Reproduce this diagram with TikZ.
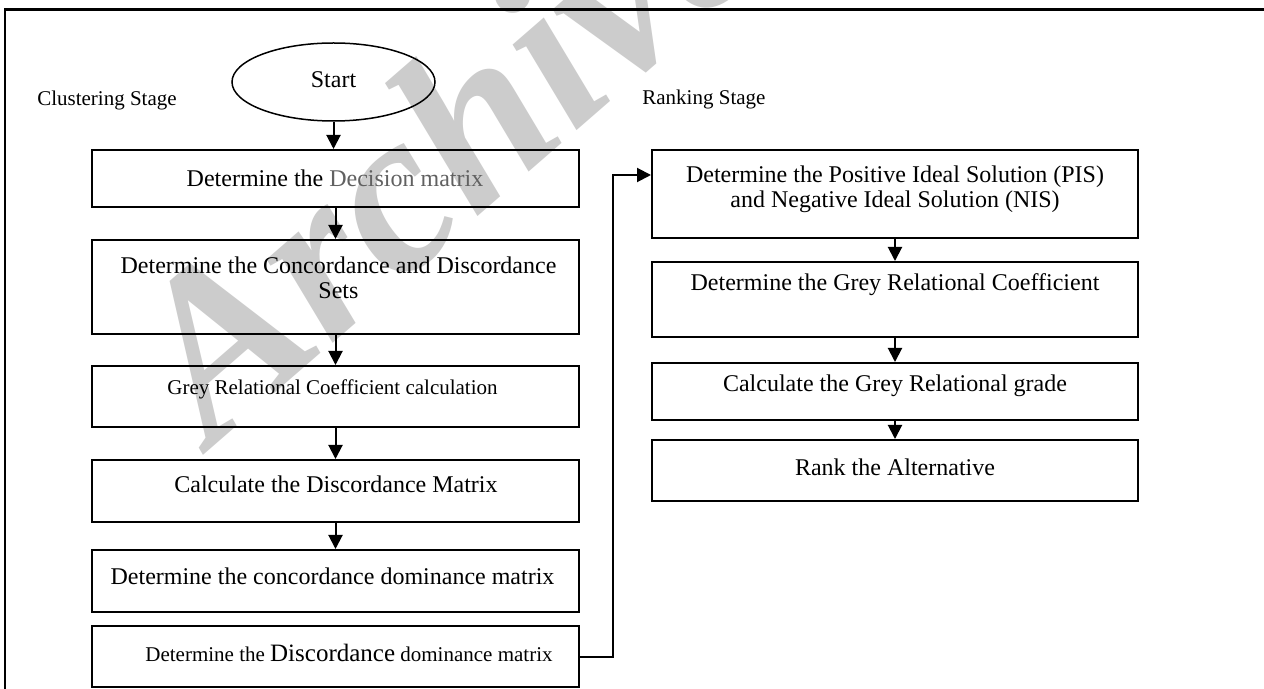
\documentclass[tikz,border=0pt]{standalone}
\usepackage{fontspec}
\setmainfont{Liberation Serif}
\usetikzlibrary{arrows.meta,shapes.geometric}
\begin{document}
\begin{tikzpicture}[x=0.5pt,y=-0.5pt,
  flowbox/.style={draw, line width=1pt, inner sep=0pt, minimum width=243.5pt},
  bigtxt/.style={font=\fontsize{12}{12.5}\selectfont, align=center, inner sep=0pt},
  smalltxt/.style={font=\fontsize{10.5}{12}\selectfont, align=center, inner sep=0pt},
  arr/.style={line width=1pt, -{Triangle[length=7pt,width=7pt]}},
  frameline/.style={line width=1.25pt},
  wmark/.style={font=\fontsize{116}{116}\bfseries\itshape\selectfont, text=black!20, inner sep=0pt}
]
\useasboundingbox (0,0) rectangle (1264,689);
\clip (0,0) rectangle (1264,689);
\fill[white] (0,0) rectangle (1264,689);

% watermark
\node[wmark, rotate=41, anchor=base west] (wm) at (212,448) {Archive};

% frame
\draw[frameline] (5,700) -- (5,9.5) -- (1275,9.5);

% stage labels
\node[smalltxt] (clust) at (107,100) {Clustering Stage};
\node[smalltxt, anchor=west] (rank) at (642,99) {Ranking Stage};

% start
\node[draw, ellipse, line width=0.75pt, minimum width=101.5pt, minimum height=39pt, inner sep=0pt] (start) at (333.5,82) {};
\node[bigtxt] (startt) at (333.5,80) {Start};

% left column boxes
\node[flowbox, minimum height=28.5pt] (b1) at (335.5,178.5) {};
\node[flowbox, minimum height=47pt] (b2) at (335.5,287) {};
\node[flowbox, minimum height=30.5pt] (b3) at (335.5,396.5) {};
\node[flowbox, minimum height=31pt] (b4) at (335.5,491) {};
\node[flowbox, minimum height=31pt] (b5) at (335.5,581) {};
\node[flowbox, minimum height=30.5pt] (b6) at (335.5,656.5) {};

\node[bigtxt] (t1) at (335,178) {Determine the \textcolor{black!62}{Decision matrix}};
\node[bigtxt] (t2) at (338.5,277.5) {Determine the Concordance and Discordance\\Sets};
\node[smalltxt] (t3) at (332.5,389) {Grey Relational Coefficient calculation};
\node[bigtxt] (t4) at (336,484) {Calculate the Discordance Matrix};
\node[bigtxt] (t5) at (332.5,576) {Determine the concordance dominance matrix};
\node[smalltxt] (t6) at (349,653) {Determine the {\fontsize{12.5}{14}\selectfont Discordance} dominance matrix};

% right column boxes
\node[flowbox, minimum width=243pt, minimum height=44pt] (r1) at (895,194) {};
\node[flowbox, minimum width=243pt, minimum height=37.5pt] (r2) at (895,299.5) {};
\node[flowbox, minimum width=243pt, minimum height=28.5pt] (r3) at (895,391.5) {};
\node[flowbox, minimum width=243pt, minimum height=30.5pt] (r4) at (895,470.5) {};

\node[bigtxt] (u1) at (895,189.5) {Determine the Positive Ideal Solution (PIS)\\and Negative Ideal Solution (NIS)};
\node[bigtxt] (u2) at (895,285) {Determine the Grey Relational Coefficient};
\node[bigtxt] (u3) at (895,386) {Calculate the Grey Relational grade};
\node[bigtxt] (u4) at (895,467) {Rank the Alternative};

% arrows left
\draw[arr] (start.south) -- (start.south |- b1.north);
\draw[arr] (b1.south) -- (b2.north);
\draw[arr] (b2.south) -- (b3.north);
\draw[arr] (b3.south) -- (b4.north);
\draw[arr] (b4.south) -- (b5.north);

% arrows right
\draw[arr] (r1.south) -- (r2.north);
\draw[arr] (r2.south) -- (r3.north);
\draw[arr] (r3.south) -- (r4.north);

% connector
\coordinate (cup) at (613,175);
\draw[arr] (b6.east) -| (cup) -- (cup -| r1.west);
\end{tikzpicture}
\end{document}
